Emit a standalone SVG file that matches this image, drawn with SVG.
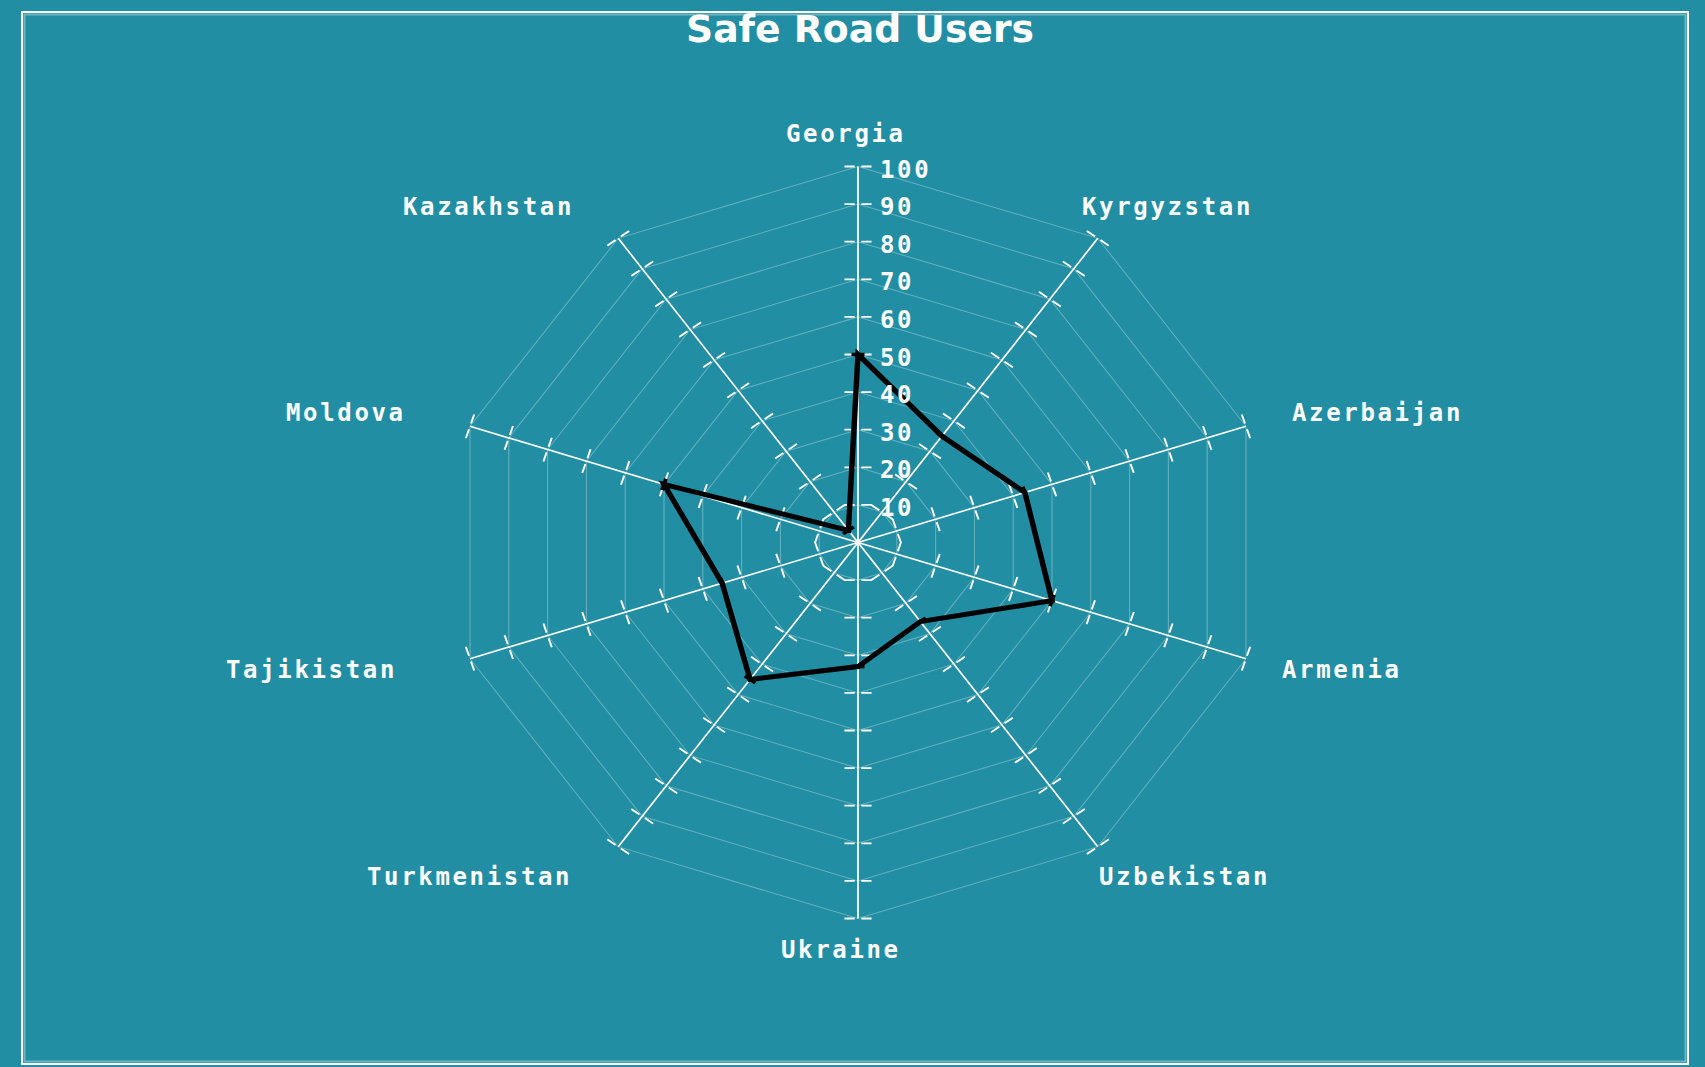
<svg xmlns="http://www.w3.org/2000/svg" xmlns:xlink="http://www.w3.org/1999/xlink" width="1705" height="1067" viewBox="0 0 1705 1067">
<style>
.bg{fill:#218ea3}
.frame{fill:none;stroke:#ffffff;stroke-width:2}
.frame2{fill:none;stroke:#ffffff;stroke-opacity:0.35;stroke-width:2}
.title{font-family:"DejaVu Sans","Liberation Sans",sans-serif;font-weight:bold;font-size:37px;fill:#ffffff}
.lbl{font-family:"DejaVu Sans Mono","Liberation Mono",monospace;font-weight:bold;font-size:24px;letter-spacing:2.65px;fill:#ffffff}
.grid{fill:none;stroke:#ffffff;stroke-opacity:0.3;stroke-width:1}
.ax{stroke:#ffffff;stroke-width:1.6;fill:none}
.tk{stroke:#ffffff;stroke-width:1.8;fill:none}
.data{fill:none;stroke:#000000;stroke-width:5;stroke-linejoin:miter}
.dt{stroke:#000000;stroke-width:3.5;fill:none}
</style>
<defs>
<g id="axis">
<line class="ax" x1="0" y1="0" x2="0" y2="-376"/>
<path class="tk" d="M-12.5 -37.6H-3M3 -37.6H12.5M-12.5 -75.2H-3M3 -75.2H12.5M-12.5 -112.8H-3M3 -112.8H12.5M-12.5 -150.4H-3M3 -150.4H12.5M-12.5 -188H-3M3 -188H12.5M-12.5 -225.6H-3M3 -225.6H12.5M-12.5 -263.2H-3M3 -263.2H12.5M-12.5 -300.8H-3M3 -300.8H12.5M-12.5 -338.4H-3M3 -338.4H12.5M-12.5 -376H-3M3 -376H12.5"/>
</g>
</defs>
<rect class="bg" x="0" y="0" width="1705" height="1067"/>
<rect class="frame" x="22" y="12" width="1666" height="1052"/>
<rect class="frame2" x="24.5" y="14.5" width="1661" height="1047"/>
<text class="title" x="860" y="42" text-anchor="middle" textLength="348" lengthAdjust="spacingAndGlyphs">Safe Road Users</text>

<g id="chart" transform="translate(858,542.5) scale(1.085,1)">
<g id="grid">
<polygon class="grid" points="0,-37.6 22.10,-30.42 35.76,-11.62 35.76,11.62 22.10,30.42 0,37.6 -22.10,30.42 -35.76,11.62 -35.76,-11.62 -22.10,-30.42"/>
<polygon class="grid" points="0,-75.2 44.20,-60.84 71.52,-23.24 71.52,23.24 44.20,60.84 0,75.2 -44.20,60.84 -71.52,23.24 -71.52,-23.24 -44.20,-60.84"/>
<polygon class="grid" points="0,-112.8 66.30,-91.26 107.28,-34.86 107.28,34.86 66.30,91.26 0,112.8 -66.30,91.26 -107.28,34.86 -107.28,-34.86 -66.30,-91.26"/>
<polygon class="grid" points="0,-150.4 88.40,-121.68 143.04,-46.48 143.04,46.48 88.40,121.68 0,150.4 -88.40,121.68 -143.04,46.48 -143.04,-46.48 -88.40,-121.68"/>
<polygon class="grid" points="0,-188 110.50,-152.10 178.80,-58.10 178.80,58.10 110.50,152.10 0,188 -110.50,152.10 -178.80,58.10 -178.80,-58.10 -110.50,-152.10"/>
<polygon class="grid" points="0,-225.6 132.60,-182.51 214.56,-69.71 214.56,69.71 132.60,182.51 0,225.6 -132.60,182.51 -214.56,69.71 -214.56,-69.71 -132.60,-182.51"/>
<polygon class="grid" points="0,-263.2 154.71,-212.93 250.32,-81.33 250.32,81.33 154.71,212.93 0,263.2 -154.71,212.93 -250.32,81.33 -250.32,-81.33 -154.71,-212.93"/>
<polygon class="grid" points="0,-300.8 176.81,-243.35 286.08,-92.95 286.08,92.95 176.81,243.35 0,300.8 -176.81,243.35 -286.08,92.95 -286.08,-92.95 -176.81,-243.35"/>
<polygon class="grid" points="0,-338.4 198.91,-273.77 321.84,-104.57 321.84,104.57 198.91,273.77 0,338.4 -198.91,273.77 -321.84,104.57 -321.84,-104.57 -198.91,-273.77"/>
<polygon class="grid" points="0,-376 221.01,-304.19 357.60,-116.19 357.60,116.19 221.01,304.19 0,376 -221.01,304.19 -357.60,116.19 -357.60,-116.19 -221.01,-304.19"/>
</g>
<g id="axis-georgia"><use xlink:href="#axis" href="#axis"/></g>
<g id="axis-kyrgyzstan" transform="rotate(36)"><use xlink:href="#axis" href="#axis"/></g>
<g id="axis-azerbaijan" transform="rotate(72)"><use xlink:href="#axis" href="#axis"/></g>
<g id="axis-armenia" transform="rotate(108)"><use xlink:href="#axis" href="#axis"/></g>
<g id="axis-uzbekistan" transform="rotate(144)"><use xlink:href="#axis" href="#axis"/></g>
<g id="axis-ukraine" transform="rotate(180)"><use xlink:href="#axis" href="#axis"/></g>
<g id="axis-turkmenistan" transform="rotate(216)"><use xlink:href="#axis" href="#axis"/></g>
<g id="axis-tajikistan" transform="rotate(252)"><use xlink:href="#axis" href="#axis"/></g>
<g id="axis-moldova" transform="rotate(288)"><use xlink:href="#axis" href="#axis"/></g>
<g id="axis-kazakhstan" transform="rotate(324)"><use xlink:href="#axis" href="#axis"/></g>
<g id="connectors">
<path class="data" d="M0,-188 L77.35,-106.47 L153.8,-49.97 L178.8,58.1 L57.5,79.1 L0,124.1 L-99.45,136.9 L-125.2,40.7 L-178.8,-58.1 L-8.84,-12.17 Z"/>
<path class="dt" transform="rotate(0)" d="M-6 -188H6"/>
<path class="dt" transform="rotate(36)" d="M-6 -131.6H6"/>
<path class="dt" transform="rotate(72)" d="M-6 -161.7H6"/>
<path class="dt" transform="rotate(108)" d="M-6 -188H6"/>
<path class="dt" transform="rotate(144)" d="M-6 -97.8H6"/>
<path class="dt" transform="rotate(180)" d="M-6 -124.1H6"/>
<path class="dt" transform="rotate(216)" d="M-6 -169.2H6"/>
<path class="dt" transform="rotate(252)" d="M-6 -131.6H6"/>
<path class="dt" transform="rotate(288)" d="M-6 -188H6"/>
<path class="dt" transform="rotate(324)" d="M-6 -15H6"/>
</g>
</g>

<g id="scale-labels">
<text class="lbl" x="880" y="177.5">100</text>
<text class="lbl" x="880" y="215">90</text>
<text class="lbl" x="880" y="252.7">80</text>
<text class="lbl" x="880" y="290.3">70</text>
<text class="lbl" x="880" y="328">60</text>
<text class="lbl" x="880" y="365.5">50</text>
<text class="lbl" x="880" y="403">40</text>
<text class="lbl" x="880" y="440.7">30</text>
<text class="lbl" x="880" y="478.3">20</text>
<text class="lbl" x="880" y="516">10</text>
</g>
<g id="axis-labels">
<text class="lbl" x="786" y="142">Georgia</text>
<text class="lbl" x="1082" y="215">Kyrgyzstan</text>
<text class="lbl" x="1292" y="421">Azerbaijan</text>
<text class="lbl" x="1282" y="678">Armenia</text>
<text class="lbl" x="1099" y="885">Uzbekistan</text>
<text class="lbl" x="781" y="958">Ukraine</text>
<text class="lbl" x="367" y="885">Turkmenistan</text>
<text class="lbl" x="226" y="678">Tajikistan</text>
<text class="lbl" x="286" y="421">Moldova</text>
<text class="lbl" x="403" y="215">Kazakhstan</text>
</g>
</svg>
